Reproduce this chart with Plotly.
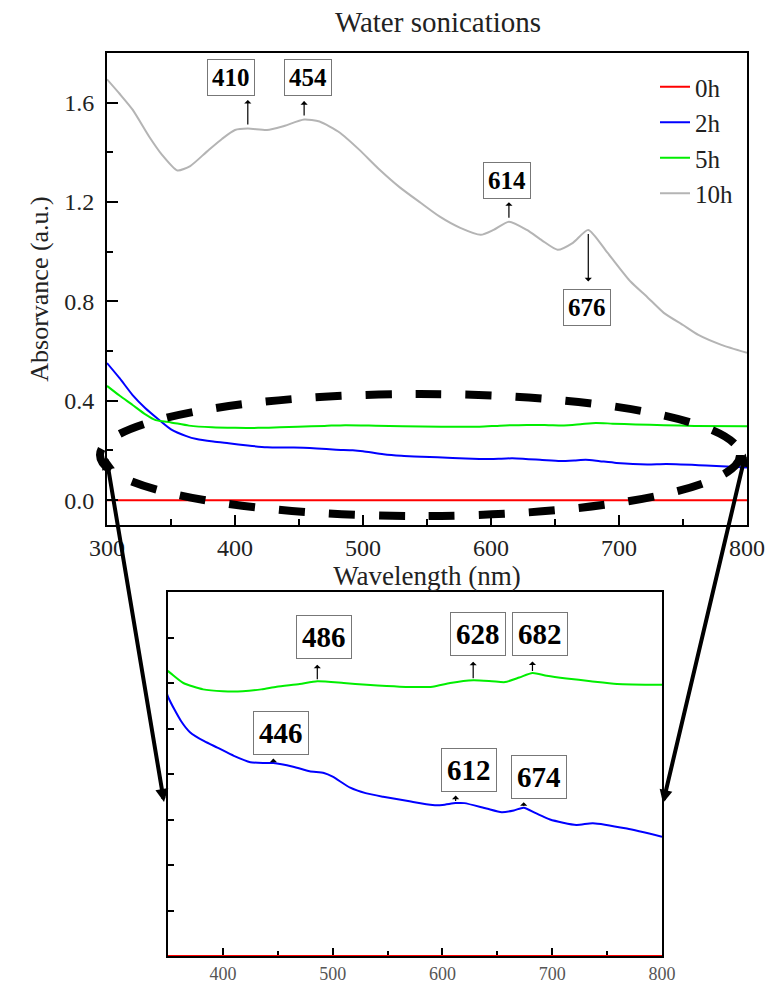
import plotly.graph_objects as go

# ---------------- data ----------------
# Absorbance spectra after water sonication (wavelength in nm)
wl_0h = [300, 400, 500, 600, 700, 800]
abs_0h = [0.0, 0.0, 0.0, 0.0, 0.0, 0.0]

wl_2h = [300, 310, 320, 330, 341, 350, 362, 370, 383, 395, 410, 425, 437, 446,
         464, 479, 492, 500, 516, 530, 546, 570, 591, 600, 612, 620, 640, 654,
         665, 674, 685, 698, 722, 737, 768, 800]
abs_2h = [0.552, 0.490, 0.423, 0.370, 0.322, 0.285, 0.258, 0.246, 0.236, 0.229,
          0.220, 0.213, 0.212, 0.212, 0.208, 0.203, 0.201, 0.197, 0.185, 0.179,
          0.175, 0.170, 0.166, 0.166, 0.168, 0.168, 0.162, 0.158, 0.160, 0.163,
          0.157, 0.150, 0.144, 0.146, 0.140, 0.131]

wl_5h = [300, 310, 320, 330, 338, 350, 364, 382, 400, 418, 435, 449, 470, 486,
         510, 531, 561, 591, 607, 628, 645, 657, 670, 682, 695, 713, 735, 759, 800]
abs_5h = [0.460, 0.420, 0.383, 0.345, 0.322, 0.313, 0.300, 0.293, 0.291, 0.291,
          0.293, 0.296, 0.299, 0.302, 0.300, 0.298, 0.296, 0.296, 0.300, 0.303,
          0.302, 0.301, 0.306, 0.311, 0.308, 0.305, 0.302, 0.299, 0.298]

wl_10h = [300, 310, 320, 333, 343, 355, 365, 378, 390, 400, 410, 425, 437, 454,
          466, 482, 497, 513, 529, 545, 560, 576, 592, 602, 614, 628, 640, 652,
          664, 676, 691, 709, 722, 735, 750, 762, 780, 800]
abs_10h = [1.694, 1.635, 1.572, 1.463, 1.390, 1.327, 1.345, 1.403, 1.455, 1.490,
           1.496, 1.490, 1.504, 1.532, 1.524, 1.479, 1.411, 1.330, 1.258, 1.197,
           1.141, 1.096, 1.068, 1.088, 1.121, 1.088, 1.045, 1.008, 1.036, 1.088,
           0.996, 0.880, 0.818, 0.754, 0.705, 0.665, 0.625, 0.593]

series_names = ["0h", "2h", "5h", "10h"]
series_colors = ["#ff0000", "#0000ff", "#00ee00", "#b4b4b4"]

# peak labels: (wavelength, series index)
main_peaks = [(410, 3), (454, 3), (614, 3), (676, 3)]
inset_peaks = [(486, 2), (628, 2), (682, 2), (446, 1), (612, 1), (674, 1)]

main_x_ticks = [300, 400, 500, 600, 700, 800]
main_y_ticks = [0.0, 0.4, 0.8, 1.2, 1.6]
inset_x_ticks = [400, 500, 600, 700, 800]

# ---------------- layout helpers ----------------
W, H = 769, 983
FONT = "Liberation Serif"


def px(x):
    return x / W


def py(y):
    return 1 - y / H


wls = [wl_0h, wl_2h, wl_5h, wl_10h]
vals = [abs_0h, abs_2h, abs_5h, abs_10h]


def value_at(idx, wl):
    return vals[idx][wls[idx].index(wl)]


fig = go.Figure()

# main panel
for name, color, x, y in zip(series_names, series_colors, wls, vals):
    fig.add_trace(go.Scatter(
        x=x, y=y, name=name, mode="lines", legendgroup=name,
        line=dict(color=color, width=2, shape="spline", smoothing=0.6),
        xaxis="x", yaxis="y"))

# inset panel (0h, 2h, 5h)
for i in range(3):
    fig.add_trace(go.Scatter(
        x=wls[i], y=vals[i], name=series_names[i], mode="lines",
        showlegend=False, cliponaxis=(i != 0),
        line=dict(color=series_colors[i], width=2, shape="spline", smoothing=0.6),
        xaxis="x2", yaxis="y2"))

axis_common = dict(showline=True, linecolor="black", linewidth=2, mirror=True,
                   ticks="inside", tickcolor="black", tickwidth=2,
                   showgrid=False, zeroline=False, automargin=False)

fig.update_layout(
    width=W, height=H,
    margin=dict(l=0, r=0, t=0, b=0),
    paper_bgcolor="white", plot_bgcolor="white",
    font=dict(family=FONT, color="#222222"),
    title=dict(text="Water sonications", x=px(438), xanchor="center",
               y=py(22), yanchor="middle", font=dict(family=FONT, size=29, color="#222222")),
    xaxis=dict(domain=[px(107), px(747)], range=[300, 800], anchor="y",
               tickvals=main_x_ticks, ticklen=10,
               minor=dict(dtick=50, ticks="inside", ticklen=6, tickwidth=2, tickcolor="black"),
               tickfont=dict(size=24, family=FONT, color="#222222"),
               title=dict(text="Wavelength (nm)", standoff=0,
                          font=dict(size=27, family=FONT, color="#222222")),
               **axis_common),
    yaxis=dict(domain=[py(525), py(53)], range=[-0.1, 1.8], anchor="x",
               tickvals=main_y_ticks, tickformat=".1f", ticklen=11,
               minor=dict(dtick=0.2, ticks="inside", ticklen=6, tickwidth=2, tickcolor="black"),
               ticklabelstandoff=6,
               tickfont=dict(size=24, family=FONT, color="#222222"),
               title=dict(text="Absorvance (a.u.)", standoff=8,
                          font=dict(size=26, family=FONT, color="#222222")),
               **axis_common),
    xaxis2=dict(domain=[px(168), px(662)], range=[350, 800], anchor="y2",
                tickvals=inset_x_ticks, ticklen=8, layer="below traces",
                minor=dict(dtick=50, ticks="inside", ticklen=5, tickwidth=2, tickcolor="black"),
                tickfont=dict(size=18, family=FONT, color="#555555"),
                **axis_common),
    yaxis2=dict(domain=[py(956), py(592)], range=[0, 0.4], anchor="x2",
                dtick=0.05, ticklen=6, showticklabels=False, layer="below traces",
                **axis_common),
    legend=dict(x=px(655), y=py(64), xanchor="left", yanchor="top",
                bgcolor="rgba(0,0,0,0)", borderwidth=0,
                font=dict(size=25, family=FONT, color="#222222"),
                tracegroupgap=0, itemwidth=30),
)

# peak labels: boxed bold text, centres given in page pixels
main_boxes = {410: (231, 78), 454: (308, 78), 614: (507, 180), 676: (587, 307)}
inset_boxes = {486: (324, 637), 628: (478, 634), 682: (540, 634),
               446: (281, 733), 612: (469, 770), 674: (539, 777)}

for wl, (bx, by) in main_boxes.items():
    fig.add_annotation(text=f"<b>{wl}</b>", xref="paper", yref="paper",
                       x=px(bx), y=py(by), xanchor="center", yanchor="middle",
                       showarrow=False,
                       font=dict(size=25, family=FONT, color="black"),
                       bordercolor="#777777", borderwidth=1, borderpad=4,
                       bgcolor="white")

for wl, (bx, by) in inset_boxes.items():
    fig.add_annotation(text=f"<b>{wl}</b>", xref="paper", yref="paper",
                       x=px(bx), y=py(by), xanchor="center", yanchor="middle",
                       showarrow=False,
                       font=dict(size=29, family=FONT, color="black"),
                       bordercolor="#777777", borderwidth=1, borderpad=5,
                       bgcolor="white")

# small arrows from each peak towards its label (length in pixels)
main_arrow_len = {410: -30, 454: -20, 614: -21, 676: 53}
inset_arrow_len = {486: -18, 628: -20, 682: -13, 446: -6, 612: -9, 674: -7}

for wl, idx in main_peaks:
    fig.add_annotation(text="", xref="x", yref="y", x=wl, y=value_at(idx, wl),
                       ax=0, ay=main_arrow_len[wl], showarrow=True,
                       arrowside="start", arrowhead=2, arrowsize=1.3,
                       arrowwidth=1.2, arrowcolor="black", standoff=4)

for wl, idx in inset_peaks:
    fig.add_annotation(text="", xref="x2", yref="y2", x=wl, y=value_at(idx, wl),
                       ax=0, ay=inset_arrow_len[wl], showarrow=True,
                       arrowside="start", arrowhead=2, arrowsize=1.3,
                       arrowwidth=1.2, arrowcolor="black", standoff=2)

# dashed ellipse around the low-absorbance curves
fig.add_shape(type="circle", xref="paper", yref="paper",
              x0=px(100), x1=px(740), y0=py(516), y1=py(394),
              line=dict(color="black", width=8, dash="26px,24px"))

# thick zoom arrows linking the ellipse to the inset
for (x_head, y_head, x_tail, y_tail) in [(164, 802, 106, 455), (663, 803, 746, 452)]:
    fig.add_annotation(text="", xref="paper", yref="paper",
                       x=px(x_head), y=py(y_head),
                       ax=x_tail - x_head, ay=y_tail - y_head,
                       showarrow=True, arrowside="end+start", arrowhead=2,
                       arrowsize=0.65, arrowwidth=4, arrowcolor="black")

fig.write_html("out.html")
